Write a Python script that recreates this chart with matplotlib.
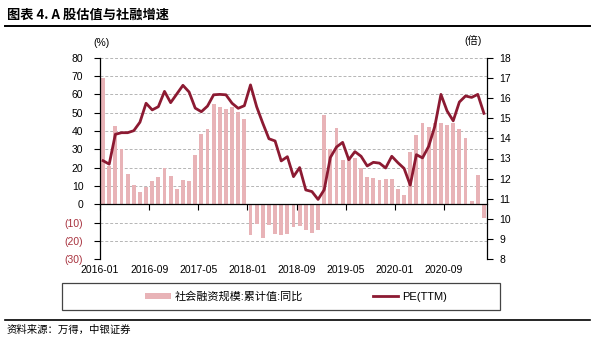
import matplotlib
matplotlib.use('Agg')
import matplotlib.pyplot as plt
from matplotlib.patches import Patch, Rectangle
from matplotlib.lines import Line2D

plt.rcParams['font.family'] = ['Liberation Sans', 'Noto Sans CJK SC']
plt.rcParams['axes.unicode_minus'] = False

# monthly, 2016-01 .. 2021-03
tsf_yoy = [69, 21, 42.7, 30, 16.4, 10.5, 6.9, 9.6, 12.7, 14.9, 19.6, 15.5,
           8.4, 13.1, 12.5, 27, 38.4, 40.9, 54.7, 52.9, 51.8, 53.3, 50.5, 46.5,
           -16.7, -10.9, -18.5, -11.3, -16.0, -16.7, -16.3, -12.2, -11.8, -14.2, -15.5, -14.2,
           48.7, 30, 41.8, 24.2, 25.6, 25.5, 19.6, 15.1, 14.4, 13.3, 14, 13.6,
           8.2, 5, 28.5, 37.8, 44.5, 42.4, 44.5, 44.2, 43.3, 44.2, 41, 36,
           2, 16, -7.6]
pe_ttm = [12.89, 12.72, 14.2, 14.28, 14.28, 14.38, 14.8, 15.74, 15.41, 15.57, 16.33, 15.77,
          16.2, 16.63, 16.3, 15.5, 15.32, 15.6, 16.16, 16.18, 16.16, 15.74, 15.49, 15.62,
          16.65, 15.57, 14.75, 13.98, 13.87, 12.88, 13.09, 12.1, 12.55, 11.44, 11.36, 10.97,
          11.45, 13.05, 13.57, 13.8, 12.94, 13.34, 13.11, 12.63, 12.81, 12.77, 12.53, 13.11,
          12.79, 12.51, 11.68, 13.19, 13.03, 13.6, 14.59, 16.18, 15.36, 14.87, 15.8, 16.1,
          16.03, 16.18, 15.24]
x_labels = ['2016-01', '2016-09', '2017-05', '2018-01', '2018-09', '2019-05', '2020-01', '2020-09']
left_ticks = [-30, -20, -10, 0, 10, 20, 30, 40, 50, 60, 70, 80]
right_ticks = list(range(8, 19))

bar_color = '#e8b3b7'
line_color = '#8c1a32'
neg_color = '#a8323e'

n = len(tsf_yoy)
xpos = [i + 0.5 for i in range(n)]
tick_pos = [8 * i for i in range(len(x_labels))]

fig = plt.figure(figsize=(5.94, 3.42), dpi=100)
ax = fig.add_axes([100 / 594, 1 - 259.3 / 342, 387 / 594, 201.6 / 342])

ax.bar(xpos, tsf_yoy, width=0.62, color=bar_color, zorder=2)
ax.set_xlim(0, n)
ax.set_ylim(-30, 80)
ax.set_yticks(left_ticks, [f'({-v})' if v < 0 else str(v) for v in left_ticks])
for lab, v in zip(ax.get_yticklabels(), left_ticks):
    if v < 0:
        lab.set_color(neg_color)
ax.tick_params(axis='y', length=4, pad=8, labelsize=7.5)
ax.yaxis.grid(True, linestyle=(0, (3, 2)), color='#b5b5b5', lw=0.7)
ax.set_axisbelow(True)
ax.spines['top'].set_visible(False)
ax.spines['right'].set_visible(False)
ax.spines['left'].set_linewidth(0.9)

# category axis crosses at zero, labels sit at the bottom
ax.spines['bottom'].set_position(('data', 0))
ax.spines['bottom'].set_linewidth(0.9)
ax.spines['bottom'].set_zorder(3)
ax.set_xticks(tick_pos)
ax.tick_params(axis='x', length=4, labelbottom=False)
sec = ax.secondary_xaxis(0)
sec.set_xticks(tick_pos, x_labels)
sec.tick_params(length=0, pad=4, labelsize=7.5)
sec.spines['bottom'].set_visible(False)

ax2 = ax.twinx()
ax2.plot(xpos, pe_ttm, color=line_color, lw=2)
ax2.set_ylim(8, 18)
ax2.set_yticks(right_ticks)
ax2.tick_params(axis='y', length=4, pad=5, labelsize=7.5)
for s in ['top', 'bottom', 'left']:
    ax2.spines[s].set_visible(False)
ax2.spines['right'].set_linewidth(0.9)

fig.text(101 / 594, 1 - 43 / 342, '(%)', fontsize=7.5, ha='center', va='center')
fig.text(473 / 594, 1 - 40 / 342, '(倍)', fontsize=7.5, ha='center', va='center')

# title and rules
fig.text(7 / 594, 1 - 15 / 342, '图表 4. A 股估值与社融增速', fontsize=9.5, fontweight='bold',
         family='Noto Sans CJK SC', ha='left', va='center')
fig.add_artist(Line2D([5 / 594, 590 / 594], [1 - 25.5 / 342] * 2, color='black', lw=1.4))
fig.add_artist(Line2D([5 / 594, 590 / 594], [1 - 319.5 / 342] * 2, color='black', lw=1.2))

# legend box
fig.add_artist(Rectangle((61.7 / 594, 1 - 310 / 342), 438.3 / 594, 27.3 / 342,
                         transform=fig.transFigure, fill=False, ec='#444444', lw=0.9))
handles = [Patch(facecolor=bar_color), Line2D([], [], color=line_color, lw=2)]
fig.legend(handles, ['社会融资规模:累计值:同比', 'PE(TTM)'], ncol=2, frameon=False,
           loc='center', bbox_to_anchor=(296 / 594, 1 - 296.5 / 342), fontsize=8,
           handlelength=2.3, handleheight=0.5, handletextpad=0.3, columnspacing=6.3)

fig.text(7 / 594, 1 - 330 / 342, '资料来源：万得，中银证券', fontsize=7.5,
         family='Noto Sans CJK SC', ha='left', va='center', style='italic')

plt.savefig('out.png', dpi=100)
